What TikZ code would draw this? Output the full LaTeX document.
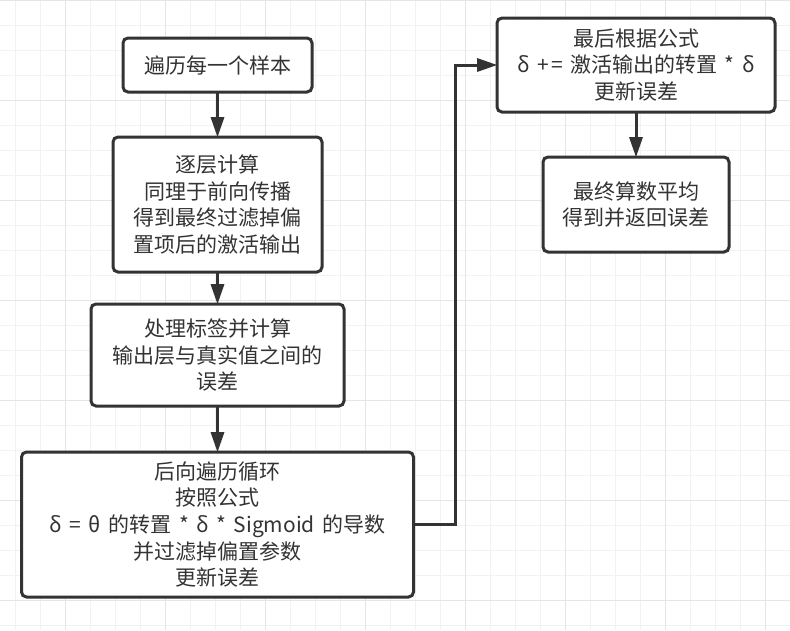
\documentclass[tikz,border=0pt]{standalone}
\usepackage{fontspec}
\setmainfont{Noto Sans CJK SC}
\usepackage{tikz}
\usetikzlibrary{positioning,arrows.meta,calc}
\definecolor{boxline}{RGB}{51,51,51}
\definecolor{gridminor}{RGB}{242,242,242}
\definecolor{gridmajor}{RGB}{229,229,229}
\newcommand{\boxfont}{\fontsize{21}{26.7}\selectfont\spaceskip 0.36em\relax}
\tikzset{
  stepbox/.style={rectangle,rounded corners=5pt,draw=boxline,line width=3pt,fill=white,align=center,text=boxline,font=\boxfont,inner sep=0pt,outer sep=0pt},
  edge/.style={-{Triangle[length=20pt,width=14pt,line width=0pt]},line width=3pt,draw=boxline},
  minorline/.style={draw=gridminor,line width=1pt},
  majorline/.style={draw=gridmajor,line width=1pt}
}

\begin{document}
\begin{tikzpicture}[x=1pt,y=-1pt]
  \useasboundingbox (0,0) rectangle (790,630);
  % background grid
  \fill[white] (0,0) rectangle (790,630);
  \foreach \gx in {15,40,...,790} \draw[minorline] (\gx,0) -- (\gx,630);
  \foreach \gy in {0,25,...,630} \draw[minorline] (0,\gy) -- (790,\gy);
  \foreach \gx in {65,165,...,765} \draw[majorline] (\gx,0) -- (\gx,630);
  \foreach \gy in {0,100,...,600} \draw[majorline] (0,\gy) -- (790,\gy);

  \node[stepbox,minimum width=189pt,minimum height=54pt] (sample) at (217.5,65) {遍历每一个样本};
  \node[stepbox,minimum width=209pt,minimum height=135pt,below=45pt of sample] (forward) {逐层计算\\同理于前向传播\\得到最终过滤掉偏\\置项后的激活输出};
  \node[stepbox,minimum width=253pt,minimum height=102pt,below=32pt of forward] (label) {处理标签并计算\\输出层与真实值之间的\\误差};
  \node[stepbox,minimum width=392pt,minimum height=145pt,below=46pt of label] (backward) {后向遍历循环\\按照公式\\δ = θ 的转置 * δ * Sigmoid 的导数\\并过滤掉偏置参数\\更新误差};
  \node[stepbox,minimum width=278pt,minimum height=94pt] (update) at (636,65) {最后根据公式\\δ +\kern2pt= 激活输出的转置 * δ\\更新误差};
  \node[stepbox,minimum width=186pt,minimum height=95pt,below=45pt of update] (average) {最终算数平均\\得到并返回误差};

  \coordinate (turn) at ($(backward.east)!.5!(update.west)$);

  \draw[edge] (sample) -- (forward);
  \draw[edge] (forward) -- (label);
  \draw[edge] (label) -- (backward);
  \draw[edge] (backward.east) -| (turn) |- (update.west);
  \draw[edge] (update) -- (average);
\end{tikzpicture}
\end{document}
